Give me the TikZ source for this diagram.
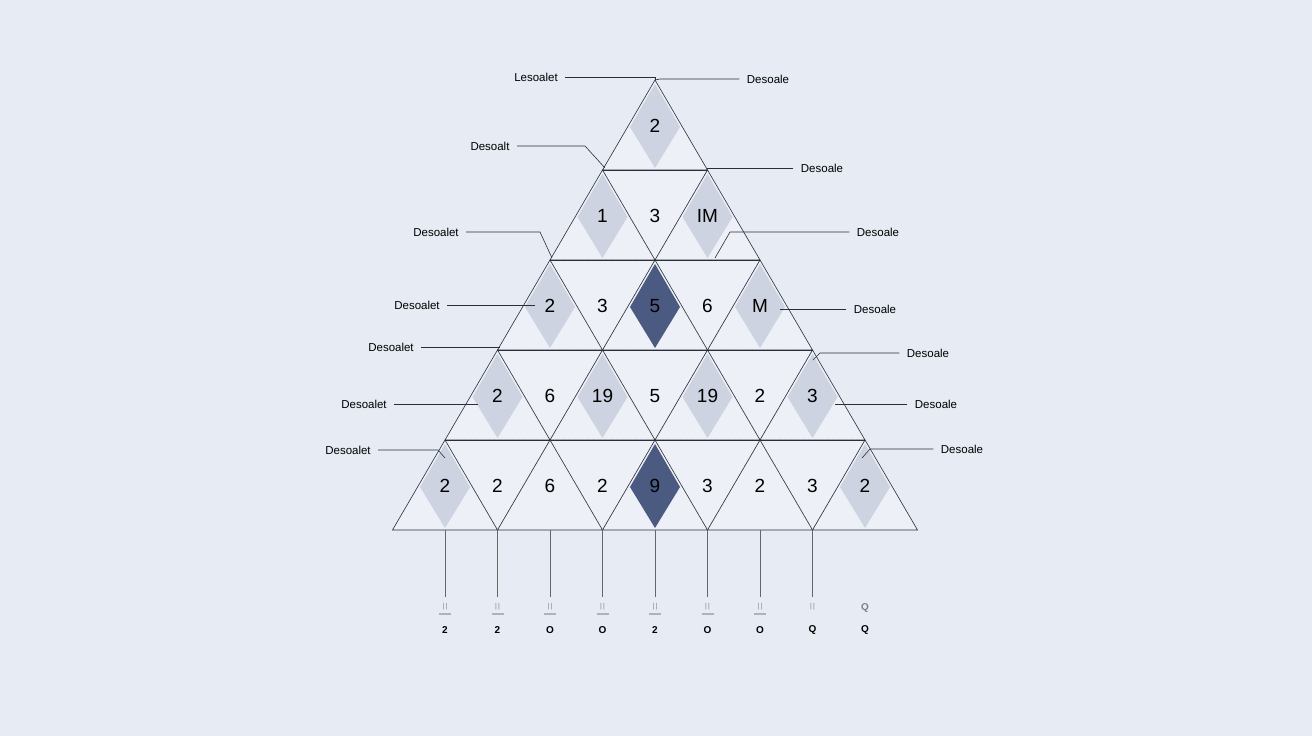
\documentclass[tikz,border=0pt]{standalone}
\usepackage{fontspec}
\setmainfont{Liberation Sans}
\definecolor{bgcol}{HTML}{E6EBF4}
\definecolor{cellcol}{HTML}{EDF0F7}
\definecolor{shadecol}{HTML}{CDD3E0}
\definecolor{darkcol}{HTML}{4A5A80}
\definecolor{linecol}{HTML}{2A2E38}
\tikzset{
    cellnum/.style={font=\fontsize{19}{20}\selectfont, text=black},
    leaderlabel/.style={font=\fontsize{11.5}{13}\selectfont, text=black},
    leader/.style={draw=linecol, line width=0.6pt},
    basemark/.style={font=\fontsize{10}{12}\selectfont\bfseries}
}
\begin{document}
\begin{tikzpicture}[x=1pt, y=-1pt]
    \useasboundingbox[fill=bgcol] (0,0) rectangle (1312,736);
    % rows of the pyramid: dashed cells first, solid cells on top
    \foreach \r in {1,...,5} {
        \pgfmathsetmacro{\yt}{80+90*(\r-1)}
        \pgfmathsetmacro{\yb}{\yt+90}
        \pgfmathtruncatemacro{\nc}{2*\r-1}
        \foreach \k in {1,...,\nc} {
            \pgfmathsetmacro{\xc}{655+(\k-\r)*52.5}
            \ifodd\k\else
                \draw[gray, dashed, line width=0.4pt, fill=cellcol] (\xc-52.5,\yt) -- (\xc+52.5,\yt) -- (\xc,\yb) -- cycle;
            \fi
        }
        \foreach \k in {1,...,\nc} {
            \pgfmathsetmacro{\xc}{655+(\k-\r)*52.5}
            \ifodd\k
                \draw[linecol, line width=0.6pt, fill=cellcol] (\xc,\yt) -- (\xc+52.5,\yb) -- (\xc-52.5,\yb) -- cycle;
            \fi
        }
    }
    % solid bases of the rows
    \foreach \r in {1,...,4} {
        \pgfmathsetmacro{\yb}{80+90*\r}
        \draw[linecol, line width=0.6pt] (655-52.5*\r,\yb) -- (655+52.5*\r,\yb);
    }
    % shaded diamonds
    \foreach \r/\k/\col in {1/1/shadecol, 2/1/shadecol, 2/3/shadecol, 3/1/shadecol, 3/3/darkcol, 3/5/shadecol,
                            4/1/shadecol, 4/3/shadecol, 4/5/shadecol, 4/7/shadecol,
                            5/1/shadecol, 5/5/darkcol, 5/9/shadecol} {
        \pgfmathsetmacro{\yt}{80+90*(\r-1)}
        \pgfmathsetmacro{\xc}{655+(\k-\r)*52.5}
        \fill[\col] (\xc,\yt+4) -- (\xc+25,\yt+47) -- (\xc,\yt+88) -- (\xc-25,\yt+47) -- cycle;
    }
    % numbers
    \foreach \r/\labs in {1/{2}, 2/{1,3,IM}, 3/{2,3,5,6,M}, 4/{2,6,19,5,19,2,3}, 5/{2,2,6,2,9,3,2,3,2}} {
        \pgfmathsetmacro{\yt}{80+90*(\r-1)}
        \foreach \t [count=\k] in \labs {
            \pgfmathsetmacro{\xc}{655+(\k-\r)*52.5}
            \node[cellnum] (n-\r-\k) at (\xc,\yt+46) {\t};
        }
    }
    % left leaders
    \foreach \i/\tx/\ty/\kx/\ky/\ex/\ey/\txt in {1/536/77/655/77/655/80/Lesoalet, 2/490/146/585/146/605/168/Desoalt,
                                           3/436/232/540/232/552/258/Desoalet, 4/417/305/535/305/535/305/Desoalet,
                                           5/391/347/500/347/500/347/Desoalet, 6/364/404/478/404/478/404/Desoalet,
                                           7/348/450/438/450/445/458/Desoalet} {
        \node[leaderlabel] (ll-\i) at (\tx,\ty) {\txt};
        \coordinate (lk-\i) at (\kx,\ky);
        \coordinate (lc-\i) at (\ex,\ey);
        \draw[leader] (ll-\i.east) ++(4,0) -- (lk-\i) -- (lc-\i);
    }
    % right leaders
    \foreach \i/\tx/\ty/\kx/\ky/\ex/\ey/\txt in {1/768/79/660/79/655/80/Desoale, 2/822/168/707/168/707/168/Desoale,
                                           3/878/232/730/232/715/258/Desoale, 4/875/309/780/309/780/309/Desoale,
                                           5/928/353/820/353/813/360/Desoale, 6/936/404/835/404/835/404/Desoale,
                                           7/962/449/870/449/862/458/Desoale} {
        \node[leaderlabel] (rl-\i) at (\tx,\ty) {\txt};
        \coordinate (rk-\i) at (\kx,\ky);
        \coordinate (rc-\i) at (\ex,\ey);
        \draw[leader] (rl-\i.west) ++(-4,0) -- (rk-\i) -- (rc-\i);
    }
    % base ticks
    \foreach \t [count=\k] in {2,2,O,O,2,O,O,Q,Q} {
        \pgfmathsetmacro{\xc}{445+(\k-1)*52.5}
        \node[basemark] (b-\k) at (\xc,630) {\t};
        \ifnum\k<9
            \coordinate (bt-\k) at (\xc,530);
            \coordinate (bb-\k) at (\xc,597);
            \draw[gray!80!black, line width=0.6pt] (bt-\k) -- (bb-\k);
            \node[text=gray, font=\fontsize{7}{8}\selectfont] (m-\k) at (\xc,607) {|\,|};
            \ifnum\k<8 \draw[gray!60, line width=1.2pt] (\xc-6,614) -- (\xc+6,614); \fi
        \else
            \node[text=gray, basemark] (m-\k) at (\xc,608) {Q};
        \fi
    }
\end{tikzpicture}
\end{document}
